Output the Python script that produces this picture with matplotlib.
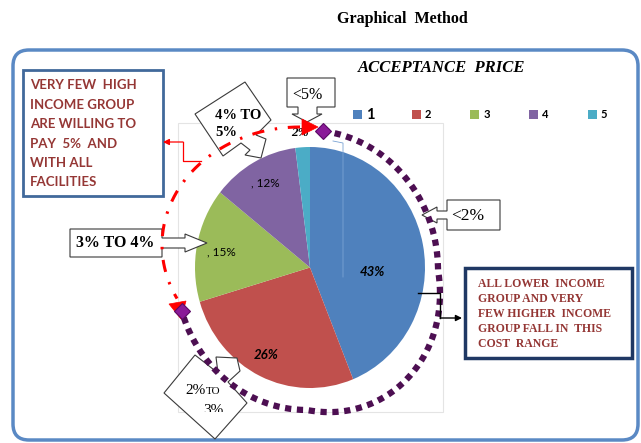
import matplotlib
matplotlib.use('Agg')
import matplotlib.pyplot as plt
import numpy as np
from matplotlib.patches import Polygon, Rectangle, FancyBboxPatch
from matplotlib.transforms import Bbox, TransformedBbox

# data
categories = ['1', '2', '3', '4', '5']
shares = [43, 26, 15, 12, 2]
pct_labels = ['43%', '26%', ', 15%', ', 12%', '2%']
colors = ['#4f81bd', '#c0504d', '#9bbb59', '#8064a2', '#4bacc6']

W, H = 641, 443
SANS = ['Lato', 'DejaVu Sans']
SERIF = ['Liberation Serif', 'DejaVu Serif']

fig = plt.figure(figsize=(W / 100, H / 100), dpi=100)

# pie, a bit taller than wide like the original
cx, cy, rx, ry = 310, 267.5, 115, 120.5
pax = fig.add_axes([(cx - 1.25 * rx) / W, (H - cy - 1.25 * ry) / H,
                    2.5 * rx / W, 2.5 * ry / H])
wedges, _ = pax.pie(shares, colors=colors, startangle=90, counterclock=False,
                    wedgeprops=dict(linewidth=0))
pax.set_aspect('auto')
pax.set_xlim(-1.25, 1.25)
pax.set_ylim(-1.25, 1.25)

label_xy = [(0.54, -0.04), (-0.38, -0.73), (-0.77, 0.13), (-0.39, 0.70), (-0.09, 1.12)]
for i, lab in enumerate(pct_labels):
    if i < 2:
        pax.text(*label_xy[i], lab, ha='center', va='center', family=SANS,
                 weight='bold', style='italic', size=9.5)
    elif i < 4:
        pax.text(*label_xy[i], lab, ha='center', va='center', family=SANS, size=8.5)
    else:
        pax.text(*label_xy[i], lab, ha='center', va='center', family=SERIF,
                 weight='bold', style='italic', size=9.5, clip_on=False)

# overlay in pixel coordinates
ax = fig.add_axes([0, 0, 1, 1], zorder=3)
ax.set_xlim(0, W)
ax.set_ylim(H, 0)
ax.axis('off')

ax.text(402, 19, 'Graphical  Method', ha='center', va='center', family=SERIF,
        weight='bold', size=11.5)

# outer rounded frame + chart area
ax.add_patch(FancyBboxPatch((13, 50), 625, 390, boxstyle='round,pad=0,rounding_size=16',
                            fc='none', ec='#5a89c4', lw=2.5))
ax.add_patch(Rectangle((178, 123), 265, 289, fill=False, ec='#e4e4e4', lw=0.8))
ax.plot([333, 343, 343], [141, 143, 277], color='#7aa3d4', lw=0.6)

ax.text(442, 68, 'ACCEPTANCE  PRICE', ha='center', va='center', family=SERIF,
        weight='bold', style='italic', size=12)

# legend
for i, (cat, col) in enumerate(zip(categories, colors)):
    x0 = 353 + 58.7 * i
    ax.add_patch(Rectangle((x0, 110), 9, 9, fc=col, ec='none'))
    ax.text(x0 + 13, 114.5, cat, ha='left', va='center', family=SANS, weight='bold',
            size=10.5 if i == 0 else 8)

# red dash-dot arc with arrowheads
t = np.radians(np.linspace(90, 207, 200))
ax.plot(300 + 138 * np.cos(t), 245 - 118 * np.sin(t), color='red', lw=2.2,
        linestyle=(0, (4, 3.5, 0.8, 3.5)))
ax.add_patch(Polygon([(302, 119), (318, 127), (302, 135)], fc='red', ec='red', lw=0.5,
                     zorder=4))
ax.add_patch(Polygon([(169, 304), (186, 301), (181, 319)], fc='red', ec='red', lw=0.5))

# purple dotted arc
t = np.radians(np.linspace(83, -163, 400))
bulge = 1 + 0.09 * np.clip(np.sin(-2 * t), 0, None) * (t < 0) * (t > -np.pi / 2)
px = 307 + 131 * bulge * np.cos(t)
py = 270 - 140 * bulge * np.sin(t)
ax.plot(px, py, color='#4d0f52', lw=4.5, linestyle=(0, (1, 0.9)))
ax.plot([px[0], px[-1]], [py[0], py[-1]], 'D', ms=8.5, color='#8a1a98', mec='#5c0a66', mew=0.8)

# top-left note
ax.add_patch(Rectangle((23, 70), 140, 126, fc='white', ec='#41699b', lw=2))
left_lines = ['VERY FEW  HIGH', 'INCOME GROUP', 'ARE WILLING TO', 'PAY  5%  AND',
              'WITH ALL', 'FACILITIES']
for i, line in enumerate(left_lines):
    ax.text(30, 85 + 19.5 * i, line, ha='left', va='center', family=SANS,
            weight='bold', size=9.5, color='#953735')
ax.plot([201, 183, 183], [161, 161, 142], color='red', lw=0.9)
ax.annotate('', xy=(163, 142), xytext=(183, 142),
            arrowprops=dict(arrowstyle='-|>', color='red', lw=0.9, mutation_scale=9,
                            shrinkA=0, shrinkB=0))

# right note
ax.add_patch(Rectangle((465, 268), 167, 90, fc='white', ec='#1f3864', lw=2.5))
right_lines = ['ALL LOWER  INCOME', 'GROUP AND VERY', 'FEW HIGHER  INCOME',
               'GROUP FALL IN  THIS', 'COST  RANGE']
for i, line in enumerate(right_lines):
    ax.text(478, 284 + 15 * i, line, ha='left', va='center', family=SERIF,
            weight='bold', size=8.5, color='#943634')
ax.plot([418, 440, 440], [293, 293, 318], color='black', lw=1)
ax.annotate('', xy=(462, 318), xytext=(440, 318),
            arrowprops=dict(arrowstyle='-|>', color='black', lw=1, mutation_scale=9,
                            shrinkA=0, shrinkB=0))

# callouts
call = dict(fc='white', ec='#3a3a3a', lw=0.8)
ax.add_patch(Polygon([(287, 78), (335, 78), (335, 107), (317, 107), (317, 114), (322, 114),
                      (307, 122), (292, 114), (298, 114), (298, 107), (287, 107)], **call))
ax.text(307, 95, '<5%', ha='center', va='center', family=SERIF, size=11.5)

ax.add_patch(Polygon([(245, 82), (271, 120), (256, 135), (266, 139), (261, 158), (245, 155),
                      (250, 150), (241, 143), (223, 156), (195, 114)], **call))
ax.text(215, 115, '4% TO', ha='left', va='center', family=SERIF, weight='bold', size=10.5)
ax.text(215, 132, '5%', ha='left', va='center', family=SERIF, weight='bold', size=10.5)

ax.add_patch(Polygon([(70, 229), (162, 229), (162, 238), (185, 238), (185, 234), (207, 243),
                      (185, 252), (185, 248), (162, 248), (162, 257), (70, 257)], **call))
ax.text(115, 243, '3% TO 4%', ha='center', va='center', family=SERIF, weight='bold', size=11.5)

ax.add_patch(Polygon([(500, 200), (447, 200), (447, 211), (437, 211), (437, 207), (422, 215),
                      (437, 223), (437, 219), (447, 219), (447, 230), (500, 230)], **call))
ax.text(468, 216, '<2%', ha='center', va='center', family=SERIF, size=12.5)

ax.add_patch(Polygon([(195, 355), (218, 373), (216, 357), (237, 358), (240, 371), (228, 382),
                      (247, 403), (215, 439), (164, 393)], **call))
ax.text(185, 390, '2%', ha='left', va='center', family=SERIF, size=11)
ax.text(206, 391, 'TO', ha='left', va='center', family=SERIF, size=8)
t3 = ax.text(203, 411, '3%', ha='left', va='center', family=SERIF, size=11)
t3.set_clip_box(TransformedBbox(Bbox([[0, 0], [W, 412]]), ax.transData))
t3.set_clip_on(True)

fig.savefig('out.png', dpi=100)
